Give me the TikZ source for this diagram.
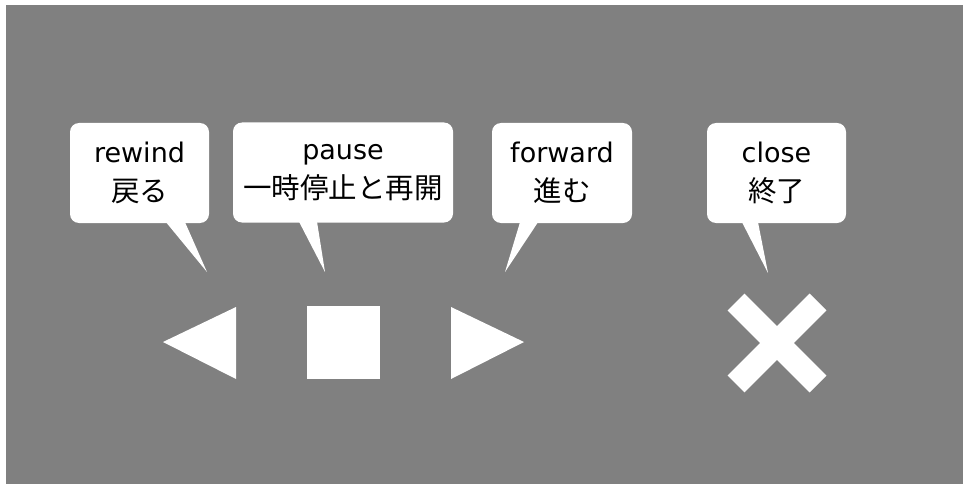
\documentclass[tikz,border=0pt]{standalone}
\usepackage{fontspec}
\setmainfont{DejaVu Sans}
\newfontfamily\jpfont{Noto Sans CJK JP}
\usetikzlibrary{calc}
\definecolor{panel}{RGB}{128,128,128}
\tikzset{
  bubble/.style={fill=white,rounded corners=9pt,minimum height=100pt,inner sep=0pt,
    align=center,font=\fontsize{27}{39}\selectfont},
  tail/.style={fill=white},
  icon/.style={fill=white},
}
\newcommand\jp[1]{{\jpfont\fontsize{28.5}{39}\selectfont #1}}

\begin{document}
\begin{tikzpicture}[x=1pt,y=-1pt]
  \useasboundingbox (0,0) rectangle (963,484);
  \fill[panel] (6,5) rectangle (963,484);
  % speech bubbles
  \node[bubble,minimum width=139pt] (rw) at (139.5,173) {rewind\\\jp{戻る}};
  \node[bubble,minimum width=220pt] (ps) at (343,172.5) {pause\\\jp{一時停止と再開}};
  \node[bubble,minimum width=140pt] (fw) at (562,173) {forward\\\jp{進む}};
  \node[bubble,minimum width=139pt] (cl) at (776.5,173) {close\\\jp{終了}};
  % pointer tips
  \coordinate (rw tip) at (207,272);
  \coordinate (ps tip) at (325,272);
  \coordinate (fw tip) at (505,272);
  \coordinate (cl tip) at (768,273);
  \fill[tail] ($(rw.south)+(26.5,-1)$) -- ($(rw.south)+(45.5,-1)$) -- (rw tip) -- cycle;
  \fill[tail] ($(ps.south)+(-44,-1)$) -- ($(ps.south)+(-26,-1)$) -- (ps tip) -- cycle;
  \fill[tail] ($(fw.south)+(-42,-1)$) -- ($(fw.south)+(-24,-1)$) -- (fw tip) -- cycle;
  \fill[tail] ($(cl.south)+(-34.5,-1)$) -- ($(cl.south)+(-18.5,-1)$) -- (cl tip) -- cycle;
  % buttons
  \fill[icon] (163,342) -- (236,307) -- (236,379) -- cycle;
  \fill[icon] (307,306) rectangle (380,379);
  \fill[icon] (524,342) -- (451,307) -- (451,379) -- cycle;
  \draw[white,line width=24pt] (736,302) -- (818,384) (818,302) -- (736,384);
\end{tikzpicture}
\end{document}
